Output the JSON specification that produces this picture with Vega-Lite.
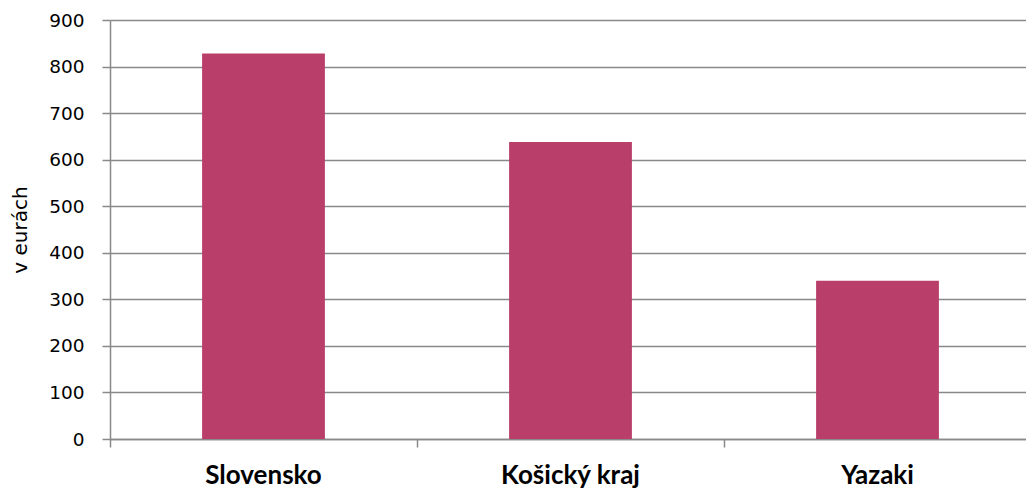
{
  "$schema": "https://vega.github.io/schema/vega-lite/v6.json",
  "autosize": "none",
  "padding": {"left": 110, "top": 20, "right": 0, "bottom": 52},
  "width": 921,
  "height": 419,
  "background": "white",
  "data": {"values": [
    {"kategoria": "Slovensko", "hodnota": 828},
    {"kategoria": "Košický kraj", "hodnota": 638},
    {"kategoria": "Yazaki", "hodnota": 340}
  ]},
  "mark": {"type": "bar", "color": "#B93E69"},
  "encoding": {
    "x": {
      "field": "kategoria", "type": "nominal", "sort": null,
      "scale": {"paddingInner": 0.6, "paddingOuter": 0.3},
      "axis": {
        "title": null, "labelAngle": 0, "bandPosition": -0.75, "labelOffset": 0,
        "labelFont": "Lato", "labelFontWeight": "bold", "labelFontSize": 26, "labelColor": "#000000",
        "labelPadding": 15, "tickSize": 8, "tickColor": "#898989", "domainColor": "#898989",
        "tickWidth": 1.5, "domainWidth": 1.5
      }
    },
    "y": {
      "field": "hodnota", "type": "quantitative",
      "scale": {"domain": [0, 900], "nice": false},
      "axis": {
        "title": "v eurách", "titleFont": "DejaVu Sans", "titleFontSize": 20, "titleFontWeight": "normal",
        "titleColor": "#000000", "titlePadding": 18,
        "values": [0, 100, 200, 300, 400, 500, 600, 700, 800, 900],
        "labelFont": "DejaVu Sans", "labelFontSize": 18.5, "labelColor": "#000000", "labelPadding": 18,
        "tickSize": 8, "tickColor": "#898989", "domainColor": "#898989", "gridColor": "#898989",
        "tickWidth": 1.5, "domainWidth": 1.5, "gridWidth": 1.5
      }
    }
  },
  "config": {"view": {"stroke": null}}
}
